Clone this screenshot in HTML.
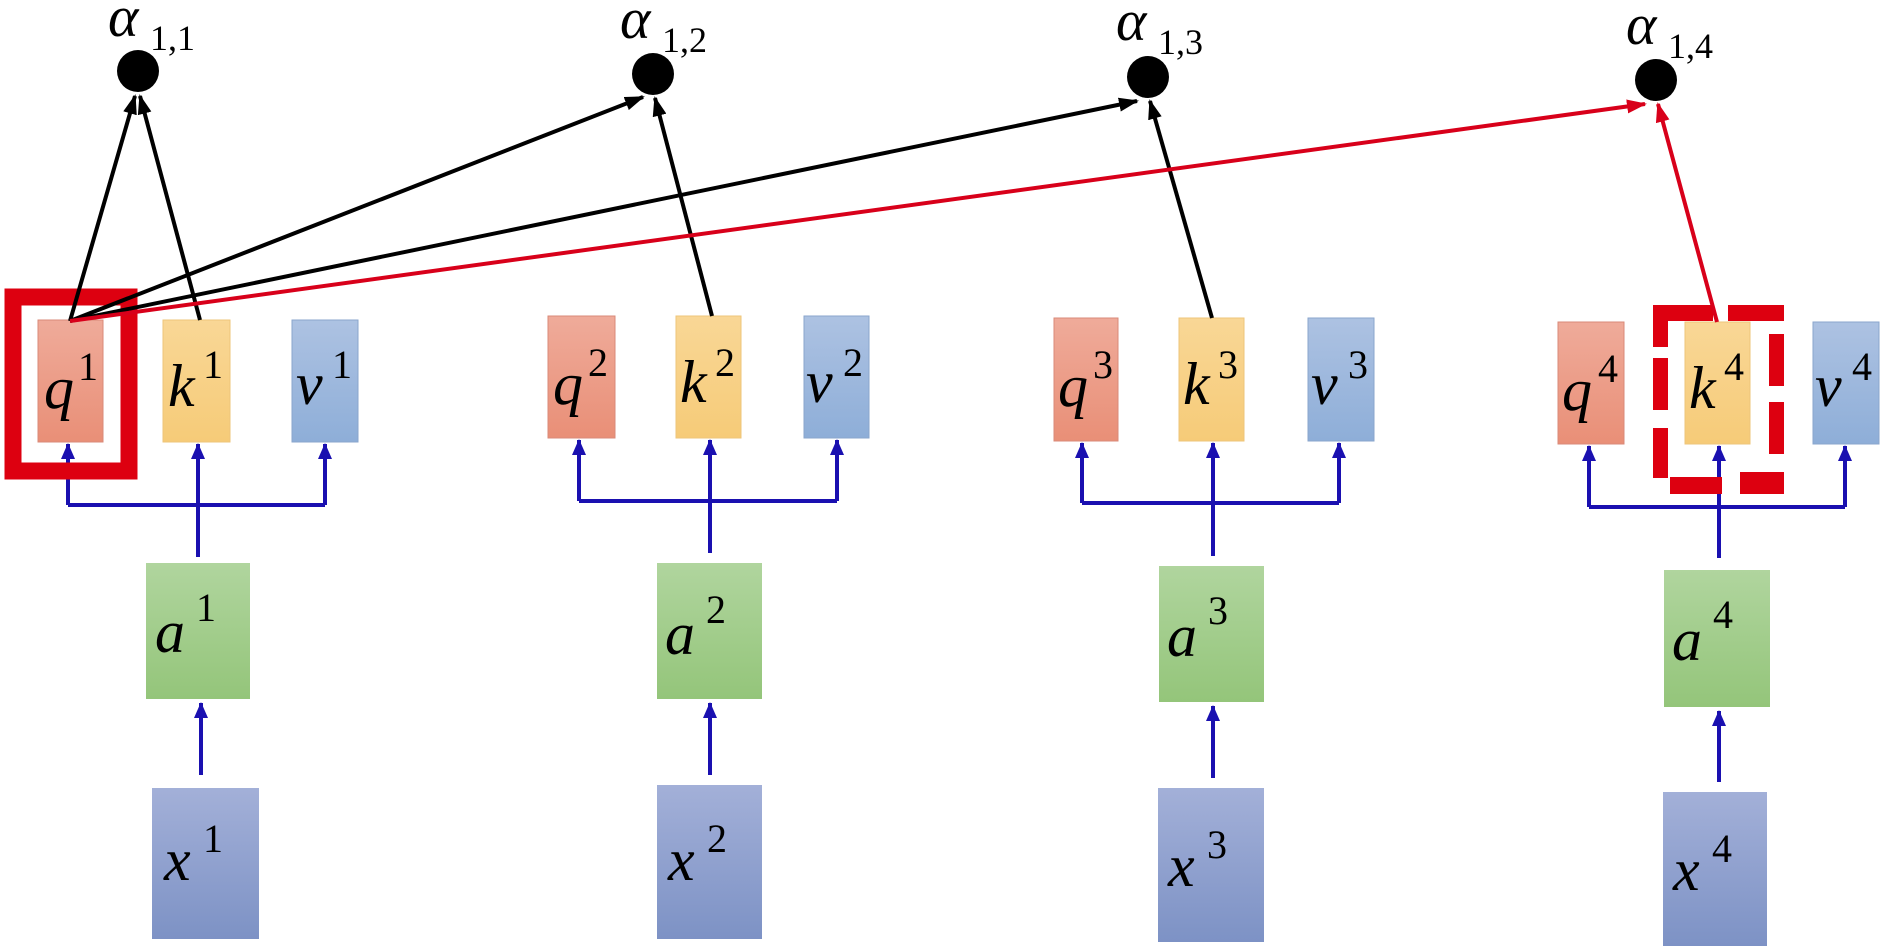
<!DOCTYPE html>
<html><head><meta charset="utf-8"><style>
html,body{margin:0;padding:0;background:#fff;}
svg{display:block;}
.m{font-family:"Liberation Serif",serif;font-style:italic;font-size:60px;fill:#000;}
.s{font-family:"Liberation Serif",serif;font-size:40px;fill:#000;}
.al{font-family:"Liberation Serif",serif;font-style:italic;font-size:58px;fill:#000;}
.as{font-family:"Liberation Serif",serif;font-size:36px;fill:#000;}
</style></head><body>
<svg width="1886" height="949" viewBox="0 0 1886 949" xmlns="http://www.w3.org/2000/svg">
<defs>
<linearGradient id="gq" x1="0" y1="0" x2="0" y2="1"><stop offset="0" stop-color="#efab9a"/><stop offset="1" stop-color="#e98f77"/></linearGradient>
<linearGradient id="gk" x1="0" y1="0" x2="0" y2="1"><stop offset="0" stop-color="#f9d796"/><stop offset="1" stop-color="#f6cb78"/></linearGradient>
<linearGradient id="gv" x1="0" y1="0" x2="0" y2="1"><stop offset="0" stop-color="#adc2e2"/><stop offset="1" stop-color="#8eaed8"/></linearGradient>
<linearGradient id="ga" x1="0" y1="0" x2="0" y2="1"><stop offset="0" stop-color="#b0d59e"/><stop offset="1" stop-color="#94c57a"/></linearGradient>
<linearGradient id="gx" x1="0" y1="0" x2="0" y2="1"><stop offset="0" stop-color="#a3b0d8"/><stop offset="1" stop-color="#7d92c5"/></linearGradient>
<marker id="ab" markerWidth="8" markerHeight="8" refX="7" refY="4" orient="auto" markerUnits="userSpaceOnUse" viewBox="0 0 8 8"><path d="M0,0 L8,4 L0,8 Z" fill="#000"/></marker>
<marker id="ar" markerWidth="20" markerHeight="14" refX="18" refY="7" orient="auto" markerUnits="userSpaceOnUse"><path d="M0,0 L20,7 L0,14 Z" fill="#d8001a"/></marker>
<marker id="ak" markerWidth="20" markerHeight="14" refX="18" refY="7" orient="auto" markerUnits="userSpaceOnUse"><path d="M0,0 L20,7 L0,14 Z" fill="#000"/></marker>
<marker id="au" markerWidth="16" markerHeight="16" refX="15" refY="8" orient="auto" markerUnits="userSpaceOnUse"><path d="M0,1 L16,8 L0,15 Z" fill="#1a10b0"/></marker>
</defs>

<!-- top boxes -->
<g stroke-width="1">
<rect x="38" y="320" width="65" height="122" fill="url(#gq)" stroke="#d98a78"/>
<rect x="163" y="320" width="67" height="122" fill="url(#gk)" stroke="#eec57a"/>
<rect x="292" y="320" width="66" height="122" fill="url(#gv)" stroke="#8aa6cc"/>

<rect x="548" y="316" width="67" height="122" fill="url(#gq)" stroke="#d98a78"/>
<rect x="676" y="316" width="65" height="122" fill="url(#gk)" stroke="#eec57a"/>
<rect x="804" y="316" width="65" height="122" fill="url(#gv)" stroke="#8aa6cc"/>

<rect x="1054" y="318" width="64" height="123" fill="url(#gq)" stroke="#d98a78"/>
<rect x="1179" y="318" width="65" height="123" fill="url(#gk)" stroke="#eec57a"/>
<rect x="1308" y="318" width="66" height="123" fill="url(#gv)" stroke="#8aa6cc"/>

<rect x="1558" y="322" width="66" height="122" fill="url(#gq)" stroke="#d98a78"/>
<rect x="1685" y="322" width="65" height="122" fill="url(#gk)" stroke="#eec57a"/>
<rect x="1813" y="322" width="66" height="122" fill="url(#gv)" stroke="#8aa6cc"/>

<!-- a boxes -->
<rect x="146" y="563" width="104" height="136" fill="url(#ga)"/>
<rect x="657" y="563" width="105" height="136" fill="url(#ga)"/>
<rect x="1159" y="566" width="105" height="136" fill="url(#ga)"/>
<rect x="1664" y="570" width="106" height="137" fill="url(#ga)"/>
<!-- x boxes -->
<rect x="152" y="788" width="107" height="151" fill="url(#gx)"/>
<rect x="657" y="785" width="105" height="154" fill="url(#gx)"/>
<rect x="1158" y="788" width="106" height="154" fill="url(#gx)"/>
<rect x="1663" y="792" width="104" height="154" fill="url(#gx)"/>
</g>

<!-- labels -->
<g>
<text class="m" x="44" y="408">q</text><text class="s" x="78" y="380">1</text>
<text class="m" x="168" y="406">k</text><text class="s" x="203" y="378">1</text>
<text class="m" x="296" y="404">v</text><text class="s" x="332" y="378">1</text>

<text class="m" x="553" y="404">q</text><text class="s" x="588" y="376">2</text>
<text class="m" x="680" y="402">k</text><text class="s" x="715" y="376">2</text>
<text class="m" x="806" y="402">v</text><text class="s" x="843" y="376">2</text>

<text class="m" x="1058" y="406">q</text><text class="s" x="1093" y="378">3</text>
<text class="m" x="1183" y="404">k</text><text class="s" x="1218" y="378">3</text>
<text class="m" x="1311" y="404">v</text><text class="s" x="1348" y="378">3</text>

<text class="m" x="1562" y="410">q</text><text class="s" x="1598" y="382">4</text>
<text class="m" x="1689" y="408">k</text><text class="s" x="1724" y="380">4</text>
<text class="m" x="1815" y="406">v</text><text class="s" x="1852" y="380">4</text>

<text class="m" x="155" y="652">a</text><text class="s" x="196" y="621">1</text>
<text class="m" x="665" y="654">a</text><text class="s" x="706" y="623">2</text>
<text class="m" x="1167" y="656">a</text><text class="s" x="1208" y="624">3</text>
<text class="m" x="1672" y="660">a</text><text class="s" x="1713" y="628">4</text>

<text class="m" x="164" y="880">x</text><text class="s" x="203" y="852">1</text>
<text class="m" x="668" y="880">x</text><text class="s" x="707" y="852">2</text>
<text class="m" x="1168" y="886">x</text><text class="s" x="1207" y="858">3</text>
<text class="m" x="1673" y="890">x</text><text class="s" x="1712" y="862">4</text>

<text class="al" x="108" y="36">α</text><text class="as" x="150" y="50">1,1</text>
<text class="al" x="620" y="38">α</text><text class="as" x="662" y="52">1,2</text>
<text class="al" x="1116" y="40">α</text><text class="as" x="1158" y="54">1,3</text>
<text class="al" x="1626" y="44">α</text><text class="as" x="1668" y="58">1,4</text>
</g>

<!-- dots -->
<ellipse cx="138" cy="71" rx="21" ry="21" fill="#000"/>
<ellipse cx="653" cy="74" rx="21" ry="21" fill="#000"/>
<ellipse cx="1148" cy="77" rx="21" ry="21" fill="#000"/>
<ellipse cx="1656" cy="80" rx="21" ry="21" fill="#000"/>

<!-- blue arrows -->
<g stroke="#1a10b0" stroke-width="4" fill="none">
<polyline points="68,505 325,505"/>
<line x1="68" y1="505" x2="68" y2="444" marker-end="url(#au)"/>
<line x1="198" y1="557" x2="198" y2="444" marker-end="url(#au)"/>
<line x1="325" y1="505" x2="325" y2="444" marker-end="url(#au)"/>
<line x1="201" y1="775" x2="201" y2="703" marker-end="url(#au)"/>

<polyline points="579,501 837,501"/>
<line x1="579" y1="501" x2="579" y2="440" marker-end="url(#au)"/>
<line x1="710" y1="553" x2="710" y2="440" marker-end="url(#au)"/>
<line x1="837" y1="501" x2="837" y2="440" marker-end="url(#au)"/>
<line x1="710" y1="775" x2="710" y2="703" marker-end="url(#au)"/>

<polyline points="1082,503 1339,503"/>
<line x1="1082" y1="503" x2="1082" y2="443" marker-end="url(#au)"/>
<line x1="1213" y1="556" x2="1213" y2="443" marker-end="url(#au)"/>
<line x1="1339" y1="503" x2="1339" y2="443" marker-end="url(#au)"/>
<line x1="1213" y1="778" x2="1213" y2="706" marker-end="url(#au)"/>

<polyline points="1589,507 1845,507"/>
<line x1="1589" y1="507" x2="1589" y2="446" marker-end="url(#au)"/>
<line x1="1719" y1="558" x2="1719" y2="446" marker-end="url(#au)"/>
<line x1="1845" y1="507" x2="1845" y2="446" marker-end="url(#au)"/>
<line x1="1719" y1="782" x2="1719" y2="711" marker-end="url(#au)"/>
</g>

<!-- red highlight boxes -->
<rect x="13" y="297" width="116" height="174" fill="none" stroke="#dd0010" stroke-width="17"/>
<g fill="#dd0010">
<rect x="1653" y="305" width="60" height="16"/>
<rect x="1728" y="305" width="56" height="16"/>
<rect x="1653" y="305" width="15" height="42"/>
<rect x="1653" y="358" width="15" height="52"/>
<rect x="1653" y="428" width="15" height="50"/>
<rect x="1670" y="477" width="52" height="17"/>
<rect x="1740" y="472" width="44" height="22"/>
<rect x="1769" y="334" width="15" height="52"/>
<rect x="1769" y="402" width="15" height="52"/>
</g>

<!-- black arrows -->
<g stroke="#000" stroke-width="4" fill="none">
<line x1="70" y1="321" x2="135" y2="96" marker-end="url(#ak)"/>
<line x1="200" y1="320" x2="140" y2="96" marker-end="url(#ak)"/>
<line x1="70" y1="321" x2="643" y2="97" marker-end="url(#ak)"/>
<line x1="712" y1="316" x2="655" y2="98" marker-end="url(#ak)"/>
<line x1="70" y1="321" x2="1137" y2="101" marker-end="url(#ak)"/>
<line x1="1212" y1="318" x2="1150" y2="101" marker-end="url(#ak)"/>
</g>
<g stroke="#d8001a" stroke-width="4" fill="none">
<line x1="70" y1="321" x2="1645" y2="104" marker-end="url(#ar)"/>
<line x1="1717" y1="322" x2="1658" y2="104" marker-end="url(#ar)"/>
</g>
</svg>
</body></html>
